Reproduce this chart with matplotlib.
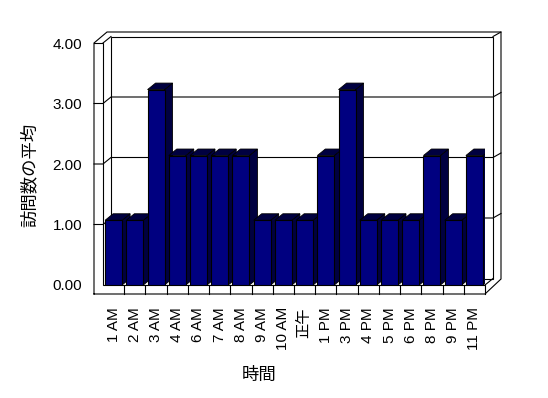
import matplotlib
matplotlib.use('Agg')
import matplotlib.pyplot as plt
from matplotlib.patches import Polygon

# data
hours = ['1 AM', '2 AM', '3 AM', '4 AM', '6 AM', '7 AM', '8 AM', '9 AM', '10 AM',
         '正午', '1 PM', '3 PM', '4 PM', '5 PM', '6 PM', '8 PM', '9 PM', '11 PM']
visits = [1.07, 1.07, 3.23, 2.14, 2.14, 2.14, 2.14, 1.07, 1.07,
          1.07, 2.14, 3.23, 1.07, 1.07, 1.07, 2.14, 1.07, 2.14]
y_ticks = [0, 1, 2, 3, 4]

W, H = 548, 398
fig = plt.figure(figsize=(W / 100, H / 100), dpi=100)
fig.patch.set_facecolor('white')

# front plane of the plot area, in pixels: x 103..485, y 43..285
ax = fig.add_axes([103 / W, (H - 285) / H, 382 / W, 242 / H])
n = len(hours)
L, R, T = -0.5, n - 0.5, 4
ax.set_xlim(L, R)
ax.set_ylim(0, T)
for s in ax.spines.values():
    s.set_visible(False)

sx = 382 / n   # pixels per category
sy = 242 / T   # pixels per unit


def P(x, y, ox=0, oy=0):
    # data point shifted by a pixel offset
    return x + ox / sx, y + oy / sy


def line(*pts, z=2):
    xs = [p[0] for p in pts]
    ys = [p[1] for p in pts]
    ax.plot(xs, ys, color='black', lw=0.8, clip_on=False, zorder=z,
            solid_joinstyle='miter')


DXp, DYp = 8, 6.5   # depth of the chart in pixels
DX, DY = DXp / sx, DYp / sy

# walls and floor
line(P(L, 0, -9, -9), P(L, T, -9, 0), P(L, T, 4, 11), P(R, T, 16, 11),
     P(R, 0, 16, 6), P(R, 0, 0, -9), P(L, 0, -9, -9))
line(P(L, T, -9, 0), P(L, T), P(L, 0), P(R, 0), P(R, 0, 0, -9))
line(P(L, T), P(L, T, DXp, DYp))
line(P(L, 0, DXp, DYp), P(L, T, DXp, DYp), P(R, T, DXp, DYp),
     P(R, 0, DXp, DYp), P(L, 0, DXp, DYp))
line(P(R, T, DXp, DYp), P(R, T, 16, 11))
line(P(R, 0), P(R, 0, DXp, DYp))
for k in range(1, n):
    line(P(L + k, 0), P(L + k, 0, 0, -9))

# gridlines
for v in y_ticks[1:-1]:
    line(P(L, v, -9, 0), P(L, v), P(L, v, DXp, DYp), P(R, v, DXp, DYp),
         P(R, v, 16, 11), z=1)

# bars
navy, dark = '#000080', '#000040'
for i, v in enumerate(visits):
    x0, x1 = i - 0.4, i + 0.4
    z = 3 + 3 * i
    ax.add_patch(Polygon([(x1, 0), (x1, v), (x1 + DX, v + DY), (x1 + DX, DY)],
                         closed=True, facecolor=dark, edgecolor='black',
                         lw=0.6, zorder=z))
    ax.add_patch(Polygon([(x0, v), (x1, v), (x1 + DX, v + DY), (x0 + DX, v + DY)],
                         closed=True, facecolor=dark, edgecolor='black',
                         lw=0.6, zorder=z + 1))
    ax.bar(i, v, width=0.8, color=navy, edgecolor='black', lw=0.8, zorder=z + 2)

tick_font = ['Liberation Sans', 'Noto Sans CJK JP']
ax.set_xticks(range(n))
ax.set_xticklabels(hours, rotation=90, fontsize=11, family=tick_font)
ax.set_yticks(y_ticks)
ax.set_yticklabels([f'{t:.2f}' for t in y_ticks], fontsize=11, family=tick_font)
ax.tick_params(axis='x', length=0, pad=16)
ax.tick_params(axis='y', length=0, pad=15)

fig.text(30 / W, 1 - 175 / H, '訪問数の平均', rotation=90, ha='center', va='center',
         fontsize=12.5, family='Noto Sans CJK JP')
fig.text(259 / W, 1 - 375 / H, '時間', ha='center', va='center',
         fontsize=12.5, family='Noto Sans CJK JP')

fig.savefig('out.png', dpi=100)
